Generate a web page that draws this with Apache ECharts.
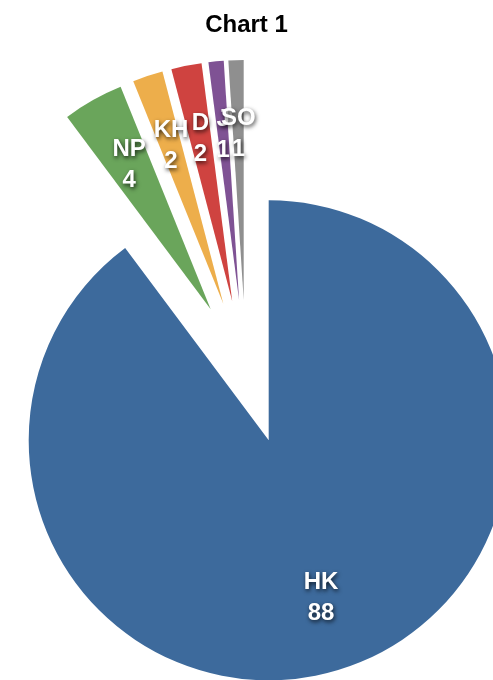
<!DOCTYPE html>
<html>
<head>
<meta charset="utf-8">
<script src="https://cdn.jsdelivr.net/npm/echarts@6/dist/echarts.min.js"></script>
<style>
  html, body { margin: 0; padding: 0; background: #fff; }
  #chart_1 { width: 493px; height: 680px; }
</style>
</head>
<body>
<div id="chart_1"></div>
<script>
var myChart = window.echarts.init(document.getElementById('chart_1'));

var names = ['HK', 'NP', 'KH', 'D', 'J', 'SO'];
var values = [88, 4, 2, 2, 1, 1];
var colors = ['#3d6a9c', '#6aa55b', '#edae4b', '#cf4340', '#7f5294', '#8f8f8f'];

var center = [246, 372];

var sliceData = names.map(function (n, i) {
    return {
        name: n,
        value: values[i],
        selected: true,
        itemStyle: { color: colors[i] }
    };
});

// transparent twin ring, only used to place the labels further out
var labelData = names.map(function (n, i) {
    return { name: n, value: values[i], selected: true };
});

var option = {
    animation: false,
    title: {
        text: 'Chart 1',
        left: 'center',
        top: 8,
        textStyle: {
            fontFamily: 'Liberation Sans',
            fontSize: 24,
            fontWeight: 'bold',
            color: '#000'
        }
    },
    series: [
        {
            type: 'pie',
            center: center,
            radius: [0, 240],
            startAngle: 90,
            clockwise: true,
            selectedMode: 'multiple',
            selectedOffset: 72,
            silent: true,
            label: { show: false },
            labelLine: { show: false },
            itemStyle: { borderWidth: 0 },
            data: sliceData
        },
        {
            type: 'pie',
            center: center,
            radius: [86, 240],
            startAngle: 90,
            clockwise: true,
            selectedMode: 'multiple',
            selectedOffset: 72,
            avoidLabelOverlap: false,
            silent: true,
            itemStyle: { color: 'rgba(0,0,0,0)', borderWidth: 0 },
            labelLine: { show: false },
            labelLayout: { hideOverlap: false },
            label: {
                show: true,
                position: 'inside',
                formatter: '{b}\n{c}',
                color: '#fff',
                fontFamily: 'Liberation Sans',
                fontWeight: 'bold',
                fontSize: 24,
                lineHeight: 31,
                textShadowColor: 'rgba(0,0,0,0.75)',
                textShadowBlur: 4,
                textShadowOffsetX: 1,
                textShadowOffsetY: 2
            },
            data: labelData
        }
    ]
};

myChart.setOption(option);
</script>
</body>
</html>
